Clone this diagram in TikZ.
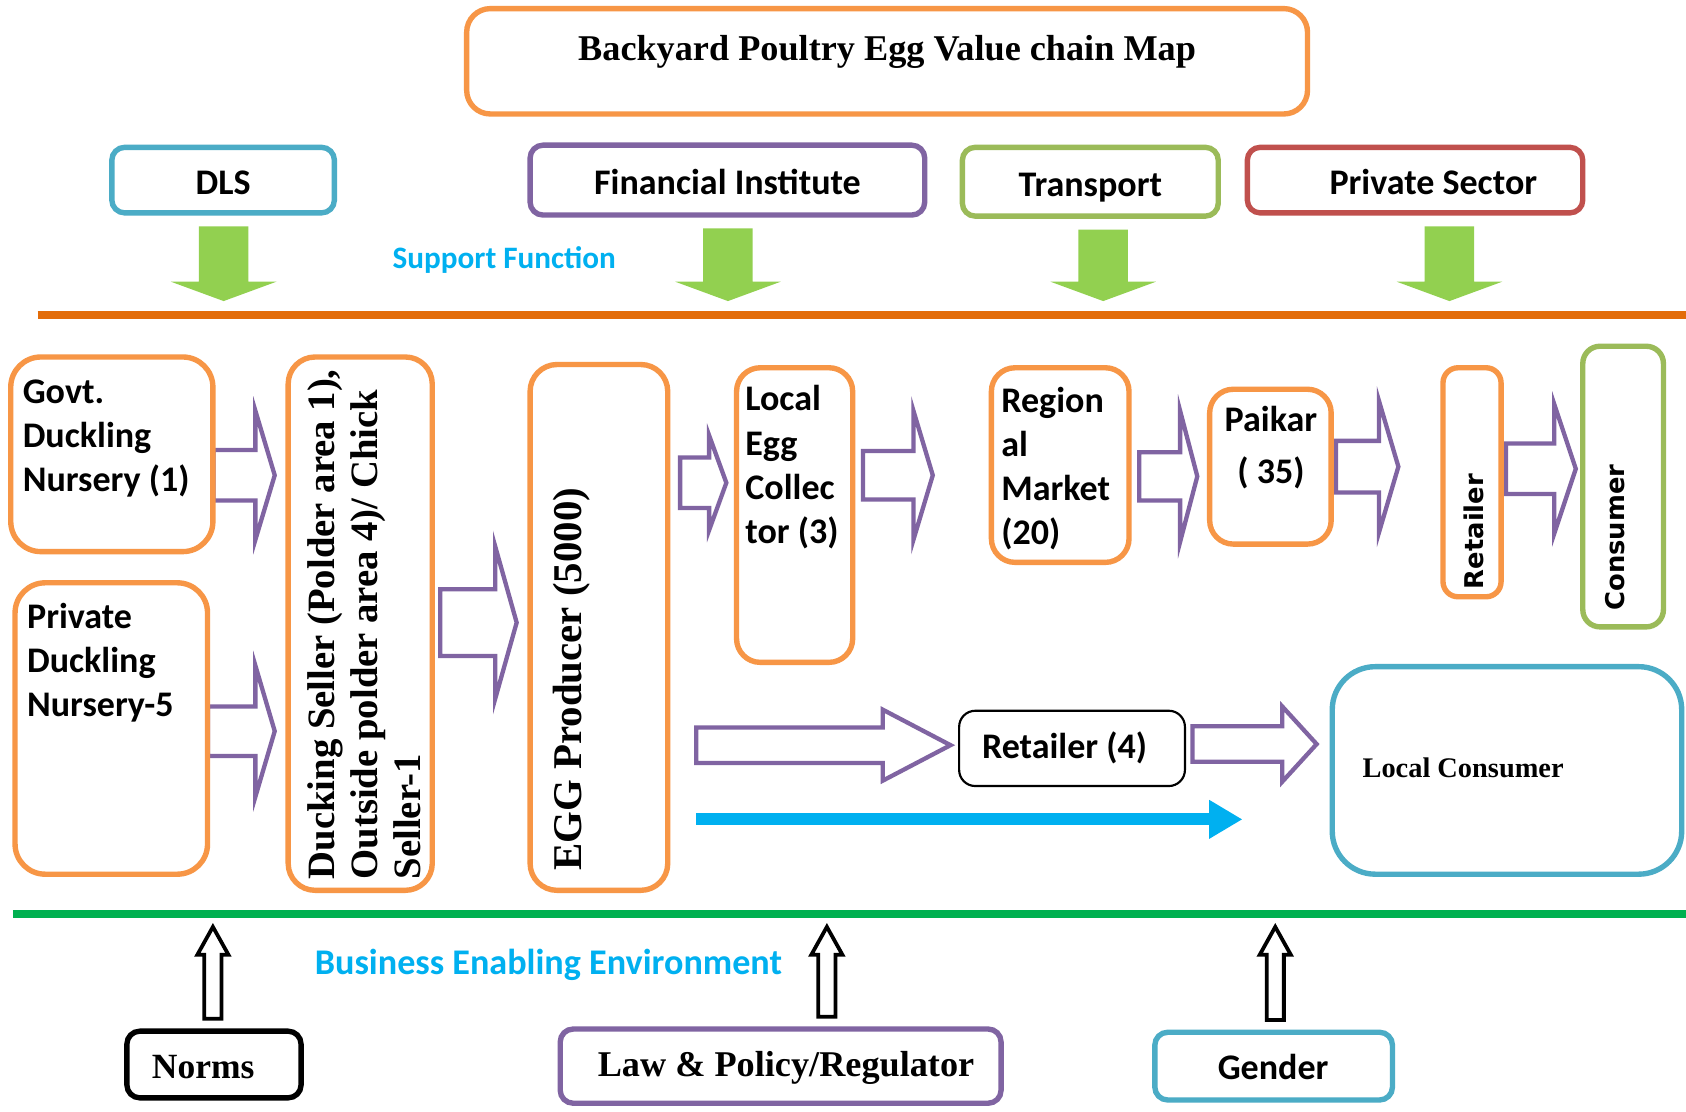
\documentclass[tikz,border=0pt]{standalone}
\usepackage{fontspec}
\setmainfont{Liberation Serif}
\newfontfamily\calibrifont{Carlito}
\newfontfamily\verdanafont{DejaVu Sans}
\usetikzlibrary{calc,arrows.meta,backgrounds}

\definecolor{orangebox}{HTML}{F79646}
\definecolor{bluebox}{HTML}{4BACC6}
\definecolor{purplebox}{HTML}{8064A2}
\definecolor{greenbox}{HTML}{9BBB59}
\definecolor{redbox}{HTML}{C0504D}
\definecolor{arrowgreen}{HTML}{92D050}
\definecolor{lineorange}{HTML}{E36C09}
\definecolor{linegreen}{HTML}{00B050}
\definecolor{cyantext}{HTML}{00B0F0}

\tikzset{
  cbox/.style={draw=#1, line width=5pt, fill=white, rounded corners=12pt, inner sep=0pt},
  ctext/.style={font=\calibrifont\bfseries\fontsize{33.5}{41}\selectfont, inner sep=0pt},
  ttext/.style={font=\bfseries\fontsize{33.7}{40}\selectfont, inner sep=0pt},
  stext/.style={font=\calibrifont\bfseries\fontsize{29}{35}\selectfont, text=cyantext, inner sep=0pt},
  vtext/.style={font=\verdanafont\bfseries\fontsize{24}{28}\selectfont, inner sep=0pt, rotate=90, anchor=base west},
  midtext/.style={text height=27pt, text depth=0pt},
  purplearrow/.style={draw=purplebox, line width=4pt, fill=white, line join=miter},
  greenarrow/.style={fill=arrowgreen},
  blackarrow/.style={draw=black, line width=3.5pt, fill=white, line join=miter},
  cyanarrow/.style={draw=cyantext, line width=11pt, -{Triangle[width=34pt,length=31pt]}},
}

% hollow block arrow pointing right: from node #1 (x shift #2) to node #3 (x shift #4),
% centre line at y=#5, shaft half width #6, head half width #7, head length #8
\newcommand\blockright[8]{%
  \path[purplearrow] let \p1=($(#1.east|-0,#5)+(#2,0)$), \p2=($(#3.west|-0,#5)+(#4,0)$) in
    (\x1,\y1+#6) -- (\x2-#8,\y1+#6) -- (\x2-#8,\y1+#7) -- (\x2,\y1)
    -- (\x2-#8,\y1-#7) -- (\x2-#8,\y1-#6) -- (\x1,\y1-#6) -- cycle;}
% filled support arrow from a box down to the support line
\newcommand\blockdown[2]{%
  \path[greenarrow] let \p1=($(#1.south)+(#2,10)$), \p2=(supL) in
    (\x1+23pt,\y1) -- (\x1+23pt,\y2+31pt) -- (\x1+49pt,\y2+31pt) -- (\x1,\y2+13pt)
    -- (\x1-49pt,\y2+31pt) -- (\x1-23pt,\y2+31pt) -- (\x1-23pt,\y1) -- cycle;}
% hollow arrow from a box up to the enabling-environment line
\newcommand\blockup[2]{%
  \path[blackarrow] let \p1=($(#1.north)+(#2,-9)$), \p2=(benL) in
    (\x1+8pt,\y1) -- (\x1+8pt,\y2-38pt) -- (\x1+14.5pt,\y2-38pt) -- (\x1,\y2-12pt)
    -- (\x1-14.5pt,\y2-38pt) -- (\x1-8pt,\y2-38pt) -- (\x1-8pt,\y1) -- cycle;}

\begin{document}
\begin{tikzpicture}[x=1pt,y=-1pt]
\useasboundingbox (0,0) rectangle (1568,1034);

% title
\node[cbox=orangebox, rounded corners=22pt, minimum width=782, minimum height=98] (title) at (825,57) {};
\node[ttext, anchor=base] (title-t) at (825,56) {Backyard Poultry Egg Value chain Map};

% support functions
\node[cbox=bluebox, ctext, midtext, minimum width=207, minimum height=61] (dls) at (207.5,167.5) {DLS};
\node[cbox=purplebox, ctext, midtext, minimum width=367, minimum height=65] (fin) at (676.5,167.5) {Financial Institute};
\node[cbox=greenbox, ctext, midtext, minimum width=238, minimum height=64] (trans) at (1014,169) {Transport};
\node[cbox=redbox, minimum width=312, minimum height=61] (priv) at (1316,167.5) {};
\node[ctext, anchor=base] (priv-t) at (1333,181) {Private Sector};
\node[stext, anchor=base] (supfn) at (469,250) {Support Function};

\coordinate (supL) at (35,293);
\coordinate (supR) at (1568,293);
\draw[line width=8pt, lineorange] (supL) -- (supR);

% value chain actors
\node[cbox=orangebox, rounded corners=28pt, minimum width=188, minimum height=181] (govt) at (104,422.5) {};
\node[ctext, anchor=north west, align=left] (govt-t) at (21,346.3) {\strut Govt.\\Duckling\\Nursery (1)};

\node[cbox=orangebox, rounded corners=28pt, minimum width=179, minimum height=271] (privn) at (103.5,677.5) {};
\node[ctext, anchor=north west, align=left] (privn-t) at (25,555.3) {\strut Private\\Duckling\\Nursery-5};

\node[cbox=orangebox, rounded corners=25pt, minimum width=134, minimum height=496] (duck) at (335,580) {};
\node[font=\bfseries\fontsize{36}{40}\selectfont, inner sep=0pt, rotate=90, anchor=north west, align=left] (duck-t) at (283,818)
  {\strut Ducking Seller (Polder area 1),\\Outside polder area 4)/ Chick\\Seller-1};

\node[cbox=orangebox, rounded corners=25pt, minimum width=128, minimum height=489] (egg) at (557,583.5) {};
\node[font=\bfseries\fontsize{38}{44}\selectfont, inner sep=0pt, rotate=90, anchor=base west] (egg-t) at (541,810) {EGG Producer (5000)};

\node[cbox=orangebox, rounded corners=22pt, minimum width=108, minimum height=274] (local) at (739,479) {};
\node[ctext, anchor=north west, align=left] (local-t) at (693,353.3) {\strut Local\\Egg\\Collec\\tor (3)};

\node[cbox=orangebox, rounded corners=22pt, minimum width=128, minimum height=181] (region) at (986,432.5) {};
\node[ctext, anchor=north west, align=left] (region-t) at (931,354.3) {\strut Region\\al\\Market\\(20)};

\node[cbox=orangebox, rounded corners=22pt, minimum width=113, minimum height=144] (paikar) at (1181.5,434) {};
\node[ctext, font=\calibrifont\bfseries\fontsize{33.5}{48}\selectfont, anchor=north, align=center] (paikar-t) at (1182,367.4) {\strut Paikar\\( 35)};

\node[cbox=orangebox, rounded corners=14pt, minimum width=54, minimum height=213] (retail) at (1369,448.5) {};
\node[vtext] (retail-t) at (1380,548) {Retailer};

\node[cbox=greenbox, rounded corners=16pt, minimum width=75, minimum height=261] (consumer) at (1509.5,452.5) {};
\node[vtext] (consumer-t) at (1511,568) {Consumer};

\node[cbox=black, line width=2pt, rounded corners=15pt, minimum width=210, minimum height=70] (ret4) at (997,696) {};
\node[ctext, anchor=base] (ret4-t) at (990,705) {Retailer (4)};

\node[cbox=bluebox, rounded corners=40pt, minimum width=325, minimum height=193] (localc) at (1401.5,716.5) {};
\node[font=\bfseries\fontsize{26.4}{30}\selectfont, inner sep=0pt, anchor=base west] (localc-t) at (1267,723) {Local Consumer};

% business enabling environment
\coordinate (benL) at (12,850);
\coordinate (benR) at (1568,850);
\draw[line width=7pt, linegreen] (benL) -- (benR);
\node[stext, font=\calibrifont\bfseries\fontsize{33.6}{40}\selectfont, anchor=base] (bee) at (510,906) {Business Enabling Environment};

\node[cbox=black, minimum width=162, minimum height=62] (norms) at (199,990) {};
\node[ttext, font=\bfseries\fontsize{33}{40}\selectfont, anchor=base] (norms-t) at (189,1003) {Norms};
\node[cbox=purplebox, minimum width=410, minimum height=69] (law) at (726,991.5) {};
\node[ttext, anchor=base] (law-t) at (731,1001) {Law \& Policy/Regulator};
\node[cbox=bluebox, minimum width=221, minimum height=63] (gender) at (1184.5,991.5) {};
\node[ctext, anchor=base] (gender-t) at (1184,1004) {Gender};

\begin{pgfonlayer}{background}
  \fill[white] (0,0) rectangle (1568,1034);
  % support arrows
  \blockdown{dls}{0.5}
  \blockdown{fin}{0.5}
  \blockdown{trans}{12}
  \blockdown{priv}{32}
  % product flow
  \blockright{govt}{-2}{duck}{-10}{442}{23.5pt}{60pt}{18pt}
  \blockright{privn}{-2}{duck}{-10}{680}{23pt}{61pt}{18pt}
  \blockright{duck}{5}{egg}{-10}{579}{31pt}{71pt}{20pt}
  \blockright{egg}{9}{local}{-7}{449}{23.5pt}{44pt}{16pt}
  \blockright{local}{7}{region}{-52}{442}{22.5pt}{60pt}{18pt}
  \blockright{region}{7}{paikar}{-9}{443}{22.5pt}{61pt}{16pt}
  \blockright{paikar}{2}{retail}{-39}{434}{24pt}{61pt}{18pt}
  \blockright{retail}{2}{consumer}{-4}{436}{23.5pt}{60pt}{20pt}
  \blockright{egg}{24}{ret4}{-7}{693}{16.5pt}{33pt}{63pt}
  \blockright{ret4}{6}{localc}{-12}{692}{16.5pt}{35pt}{32pt}
  \draw[cyanarrow] ($(egg.east|-0,762)+(24,0)$) -- ($(localc.west|-0,762)+(-81,0)$);
  % enabling environment arrows
  \blockup{norms}{-1}
  \blockup{law}{43}
  \blockup{gender}{1.5}
\end{pgfonlayer}
\end{tikzpicture}
\end{document}
